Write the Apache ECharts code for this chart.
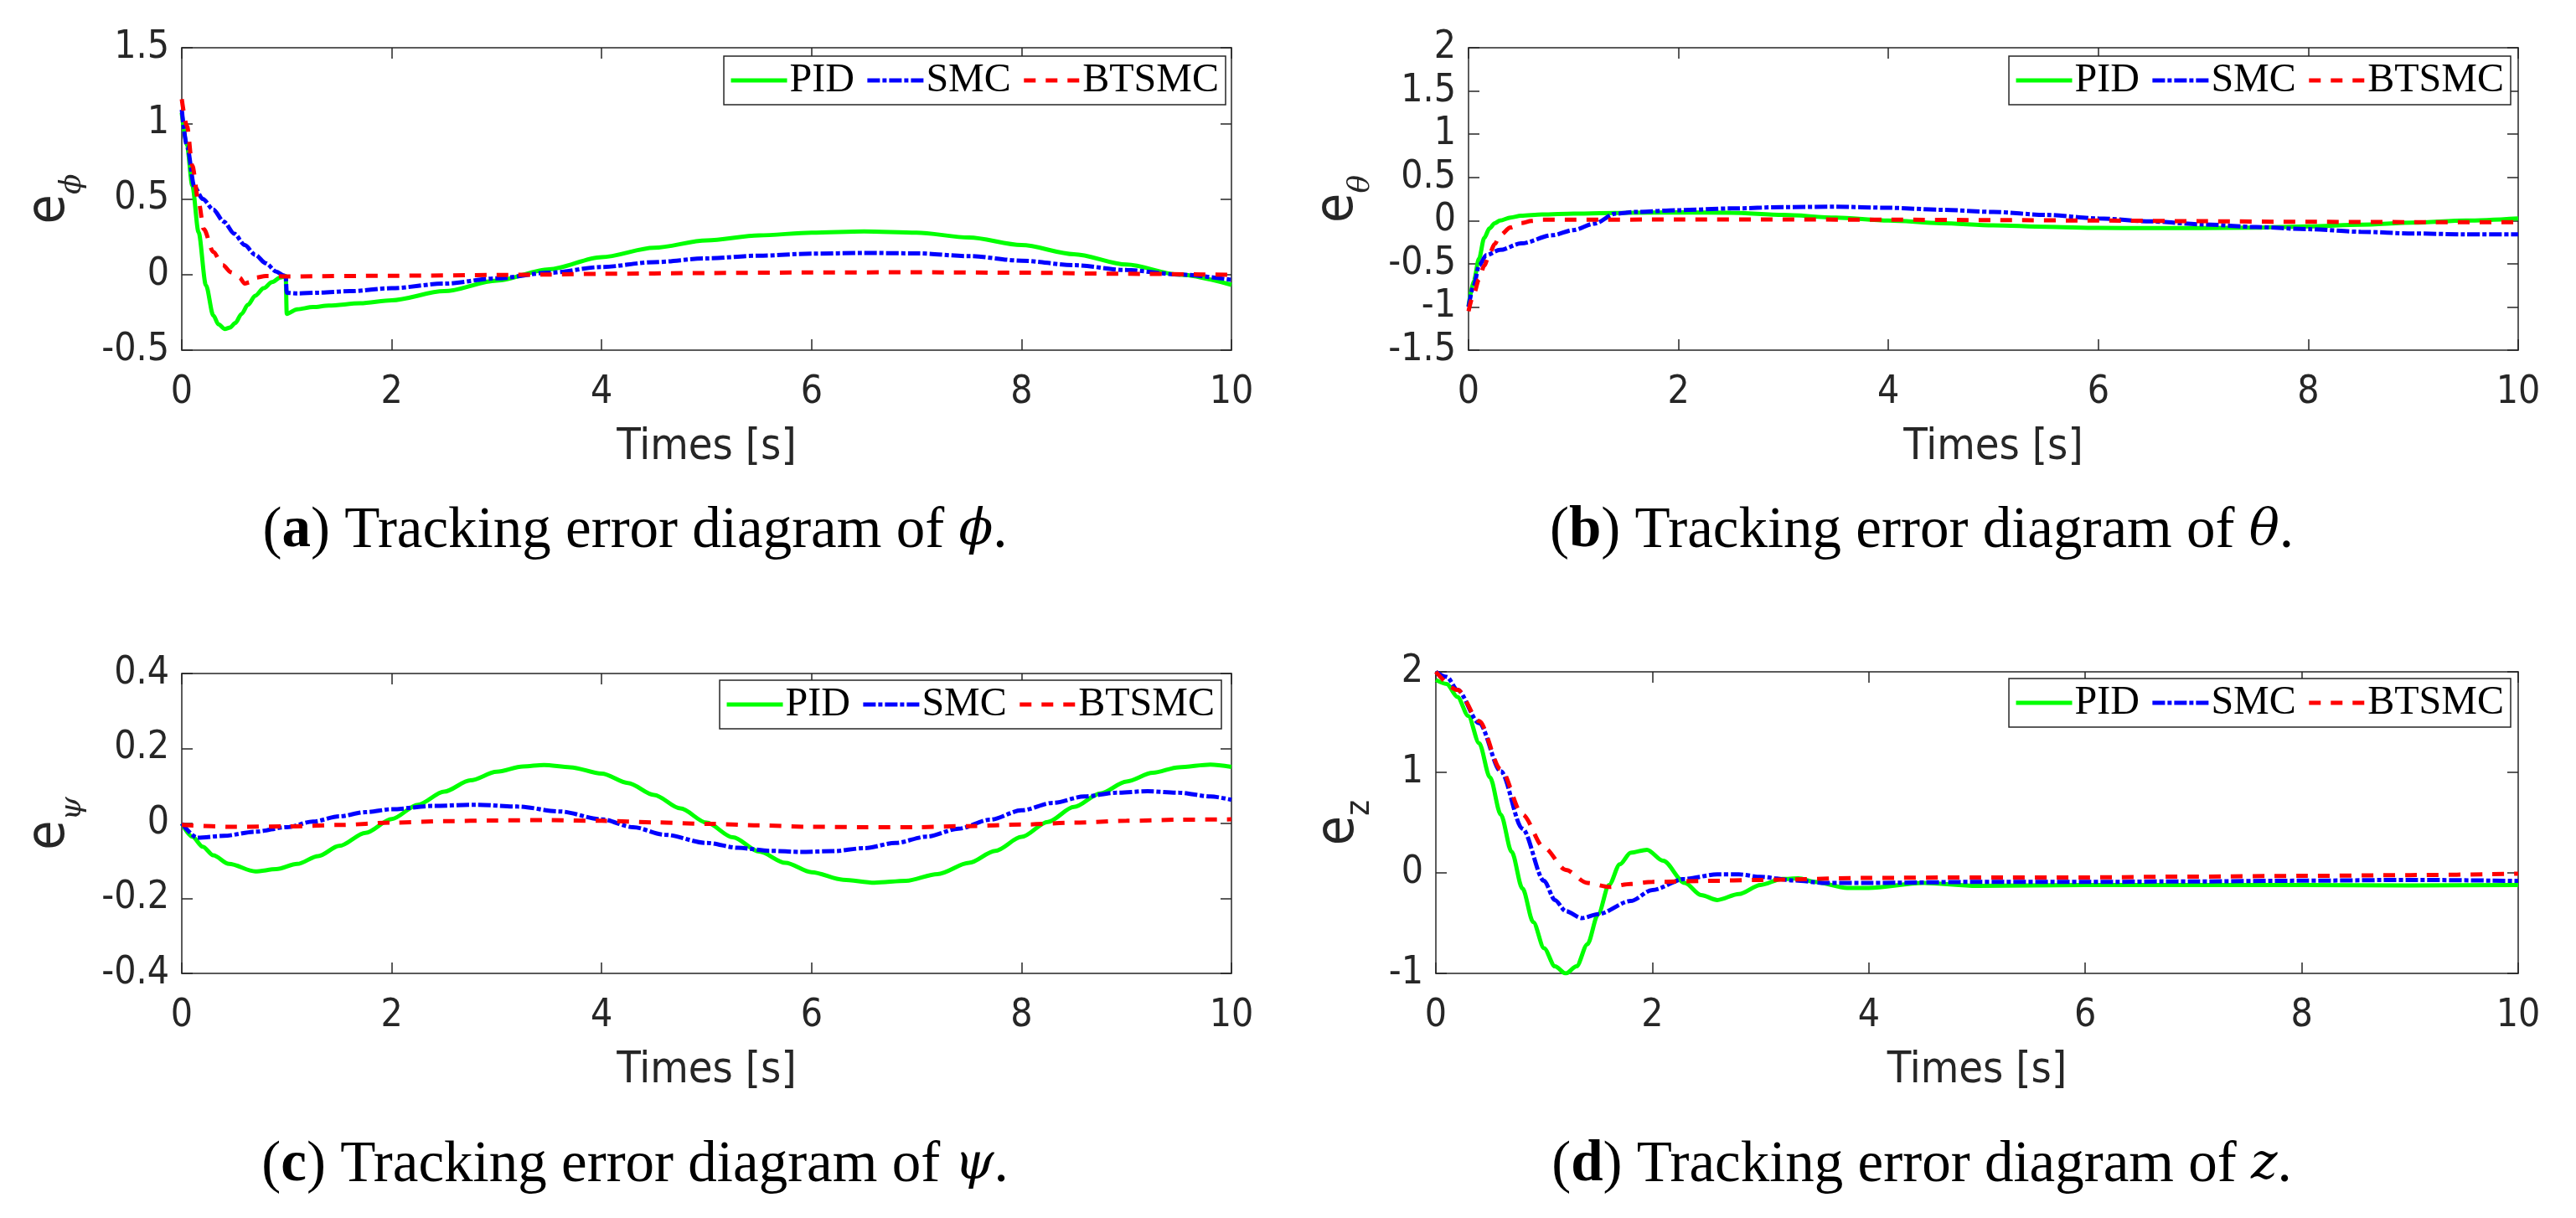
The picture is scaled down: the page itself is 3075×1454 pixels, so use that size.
<!DOCTYPE html>
<html>
  <head>
    <meta charset="utf-8" />
    <title>Tracking error diagrams</title>
    <script src="https://cdn.jsdelivr.net/npm/echarts@6/dist/echarts.min.js"></script>
  </head>
  <body style="margin: 0; background: #fff">
    <div id="main" style="width: 3075px; height: 1454px"></div>

    <script>
      // ---- data ----
      // (a) e_phi
      var tPhiPid = [0, 0.05, 0.1, 0.16, 0.23, 0.3, 0.35, 0.41, 0.46, 0.51, 0.57, 0.63, 0.7, 0.78, 0.86, 0.94, 0.99, 1.0, 1.1, 1.25, 1.4, 1.7, 2, 2.5, 3, 3.5, 4, 4.5, 5, 5.5, 6, 6.5, 7, 7.5, 8, 8.5, 9, 9.5, 10];
      var phiPid = [1.07, 0.85, 0.59, 0.28, -0.07, -0.27, -0.33, -0.36, -0.35, -0.32, -0.26, -0.2, -0.14, -0.09, -0.05, -0.02, -0.01, -0.26, -0.23, -0.215, -0.205, -0.19, -0.17, -0.11, -0.04, 0.035, 0.115, 0.177, 0.226, 0.259, 0.277, 0.285, 0.277, 0.245, 0.195, 0.135, 0.066, 0.0, -0.068];
      var tPhiSmc = [0, 0.05, 0.12, 0.2, 0.3, 0.4, 0.5, 0.6, 0.7, 0.8, 0.9, 0.97, 0.99, 1.0, 1.1, 1.3, 1.6, 2, 2.5, 3, 3.5, 4, 4.5, 5, 5.5, 6, 6.5, 7, 7.5, 8, 8.5, 9, 9.5, 10];
      var phiSmc = [1.09, 0.85, 0.58, 0.5, 0.43, 0.35, 0.27, 0.195, 0.13, 0.075, 0.02, -0.005, -0.012, -0.12, -0.125, -0.12, -0.11, -0.09, -0.06, -0.025, 0.012, 0.05, 0.082, 0.107, 0.125, 0.138, 0.143, 0.14, 0.122, 0.092, 0.062, 0.03, 0.0, -0.035];
      var tPhiBts = [0, 0.05, 0.1, 0.16, 0.21, 0.3, 0.39, 0.47, 0.55, 0.6, 0.65, 0.7, 0.8, 1, 2, 3, 3.5, 4, 5, 6, 7, 8, 9, 10];
      var phiBts = [1.16, 0.98, 0.72, 0.48, 0.3, 0.15, 0.063, 0.015, -0.02, -0.06, -0.05, -0.02, -0.01, -0.012, -0.008, -0.003, 0.0, 0.005, 0.01, 0.014, 0.015, 0.012, 0.005, -0.002];

      // (b) e_theta
      var tThPid = [0, 0.05, 0.1, 0.15, 0.2, 0.25, 0.3, 0.4, 0.5, 0.7, 1, 1.5, 2, 2.5, 3, 3.5, 4, 4.5, 5, 5.5, 6, 6.5, 7, 7.5, 8, 8.5, 9, 9.5, 10];
      var thPid = [-0.99, -0.7, -0.44, -0.2, -0.09, -0.03, 0.0, 0.035, 0.055, 0.07, 0.08, 0.09, 0.095, 0.09, 0.065, 0.035, 0.0, -0.03, -0.055, -0.072, -0.085, -0.088, -0.087, -0.083, -0.068, -0.048, -0.025, 0.0, 0.025];
      var tThSmc = [0, 0.05, 0.1, 0.17, 0.3, 0.5, 0.8, 1, 1.2, 1.4, 1.6, 2, 2.5, 3, 3.5, 4, 4.5, 5, 5.5, 6, 6.5, 7, 7.5, 8, 8.5, 9, 9.5, 10];
      var thSmc = [-1.0, -0.75, -0.52, -0.4, -0.34, -0.265, -0.17, -0.11, -0.035, 0.08, 0.1, 0.12, 0.14, 0.155, 0.16, 0.148, 0.125, 0.1, 0.065, 0.025, -0.01, -0.045, -0.075, -0.1, -0.13, -0.15, -0.16, -0.16];
      var tThBts = [0, 0.05, 0.1, 0.15, 0.2, 0.25, 0.3, 0.4, 0.5, 0.6, 0.7, 1, 2, 3, 4, 5, 6, 7, 8, 9, 10];
      var thBts = [-1.05, -0.85, -0.68, -0.52, -0.38, -0.27, -0.17, -0.08, -0.03, -0.005, 0.01, 0.01, 0.012, 0.012, 0.01, 0.005, 0.0, -0.008, -0.015, -0.018, -0.018];

      // (c) e_psi
      var tPsiPid = [0, 0.1, 0.2, 0.3, 0.45, 0.7, 0.9, 1.1, 1.3, 1.5, 1.75, 2, 2.25, 2.5, 2.75, 3, 3.25, 3.45, 3.7, 4, 4.25, 4.5, 4.75, 5, 5.25, 5.5, 5.75, 6, 6.3, 6.6, 6.9, 7.2, 7.5, 7.75, 8, 8.25, 8.5, 8.75, 9, 9.25, 9.5, 9.8, 10];
      var psiPid = [0, -0.035, -0.062, -0.085, -0.108, -0.128, -0.122, -0.108, -0.087, -0.06, -0.025, 0.012, 0.05, 0.085, 0.115, 0.138, 0.152, 0.156, 0.15, 0.133, 0.108, 0.076, 0.04, 0.002, -0.037, -0.075, -0.105, -0.13, -0.15, -0.158, -0.153, -0.135, -0.105, -0.073, -0.036, 0.004, 0.044, 0.08, 0.112, 0.135, 0.15, 0.157, 0.151];
      var tPsiSmc = [0, 0.15, 0.4, 0.7, 1, 1.25, 1.5, 1.75, 2, 2.4, 2.8, 3.2, 3.6, 4, 4.3, 4.6, 5, 5.3, 5.6, 5.9, 6.2, 6.5, 6.8, 7.1, 7.4, 7.7, 8, 8.3, 8.6, 8.9, 9.2, 9.5, 9.8, 10];
      var psiSmc = [0, -0.038, -0.033, -0.022, -0.01, 0.005, 0.019, 0.03, 0.038, 0.047, 0.05, 0.045, 0.032, 0.011, -0.01, -0.03, -0.052, -0.065, -0.073, -0.076, -0.074, -0.066, -0.052, -0.035, -0.014, 0.01, 0.035, 0.055, 0.072, 0.082, 0.086, 0.082, 0.072, 0.063];
      var tPsiBts = [0, 0.5, 1, 1.5, 2, 2.5, 3, 3.5, 4, 4.5, 5, 5.5, 6, 6.5, 7, 7.5, 8, 8.5, 9, 9.5, 10];
      var psiBts = [-0.004, -0.009, -0.008, -0.004, 0.002, 0.006, 0.008, 0.009, 0.007, 0.003, -0.001, -0.005, -0.009, -0.01, -0.01, -0.007, -0.003, 0.002, 0.007, 0.01, 0.011];

      // (d) e_z
      var tZPid = [0, 0.1, 0.2, 0.3, 0.4, 0.5, 0.6, 0.7, 0.8, 0.9, 1.0, 1.1, 1.2, 1.3, 1.4, 1.5, 1.6, 1.7, 1.8, 1.95, 2.1, 2.3, 2.45, 2.6, 2.8, 3.0, 3.2, 3.35, 3.5, 3.8, 4.0, 4.5, 5, 6, 7, 8, 9, 10];
      var zPid = [1.92, 1.88, 1.75, 1.56, 1.29, 0.95, 0.58, 0.21, -0.155, -0.49, -0.75, -0.93, -1.0, -0.93, -0.71, -0.41, -0.12, 0.085, 0.2, 0.23, 0.12, -0.1, -0.22, -0.27, -0.21, -0.12, -0.06, -0.055, -0.09, -0.15, -0.15, -0.1, -0.13, -0.12, -0.12, -0.12, -0.125, -0.12];
      var tZSmc = [0, 0.1, 0.2, 0.4, 0.6, 0.8, 1.0, 1.1, 1.2, 1.35, 1.5, 1.8, 2.0, 2.3, 2.6, 2.8, 3.0, 3.3, 3.6, 4, 5, 6, 7, 8, 9, 10];
      var zSmc = [2.0, 1.95, 1.82, 1.49, 1.01, 0.44, -0.08, -0.27, -0.38, -0.45, -0.41, -0.28, -0.17, -0.06, -0.015, -0.015, -0.04, -0.074, -0.1, -0.1, -0.09, -0.09, -0.085, -0.078, -0.07, -0.08];
      var tZBts = [0, 0.2, 0.4, 0.6, 0.8, 1.0, 1.2, 1.4, 1.6, 1.8, 2, 2.5, 3, 4, 5, 6, 7, 8, 9, 10];
      var zBts = [2.0, 1.82, 1.51, 1.03, 0.58, 0.25, 0.03, -0.1, -0.14, -0.11, -0.09, -0.08, -0.07, -0.05, -0.045, -0.045, -0.037, -0.03, -0.022, -0.008];

      var seriesNames = ["PID", "SMC", "BTSMC"];
      var xTicks = [0, 10, 2]; // min, max, interval
      var yRanges = [
        [-0.5, 1.5, 0.5],
        [-1.5, 2, 0.5],
        [-0.4, 0.4, 0.2],
        [-1, 2, 1],
      ];
      var yNames = ["{e|e}{s|ϕ}", "{e|e}{s|θ}", "{e|e}{s|ψ}", "{e|e}{z|z}"];
      var captions = [
        "{p|(}{b|a}{p|) Tracking error diagram of }{i|ϕ}{p|.}",
        "{p|(}{b|b}{p|) Tracking error diagram of }{i|θ}{p|.}",
        "{p|(}{b|c}{p|) Tracking error diagram of }{i|ψ}{p|.}",
        "{p|(}{b|d}{p|) Tracking error diagram of }{i|z}{p|.}",
      ];
      var panelData = [
        [[tPhiPid, phiPid], [tPhiSmc, phiSmc], [tPhiBts, phiBts]],
        [[tThPid, thPid], [tThSmc, thSmc], [tThBts, thBts]],
        [[tPsiPid, psiPid], [tPsiSmc, psiSmc], [tPsiBts, psiBts]],
        [[tZPid, zPid], [tZSmc, zSmc], [tZBts, zBts]],
      ];

      // ---- layout ----
      var grids = [
        { left: 217, top: 57, width: 1253, height: 361 },
        { left: 1753, top: 57, width: 1253, height: 361 },
        { left: 217, top: 804, width: 1253, height: 358 },
        { left: 1714, top: 802, width: 1292, height: 360 },
      ];
      var nameGaps = [112, 110, 112, 70];
      var legendPos = [
        { right: 1612, top: 67 },
        { right: 78, top: 67 },
        { right: 1617, top: 812 },
        { right: 78, top: 810 },
      ];
      var captionPos = [
        { left: 758, top: 600 },
        { left: 2294, top: 600 },
        { left: 758, top: 1357 },
        { left: 2294, top: 1357 },
      ];

      var axisFont = "'Liberation Sans Narrow', 'DejaVu Sans Condensed', 'Arial Narrow', sans-serif";
      var serifFont = "'Liberation Serif', 'DejaVu Serif', serif";
      var axisColor = "#262626";
      var lineWidth = 5;
      var styles = [
        { color: "#00ff00", type: "solid" },
        { color: "#0000ff", type: [15, 3, 5, 3] },
        { color: "#ff0000", type: [14, 12] },
      ];

      function pairs(t, v) {
        return t.map(function (x, i) {
          return [x, v[i]];
        });
      }

      var xAxes = [];
      var yAxes = [];
      var series = [];
      var legends = [];
      var titles = [];

      grids.forEach(function (g, i) {
        var tickStyle = { show: true, inside: true, length: 13, lineStyle: { color: axisColor, width: 1.5 } };
        var lineStyle = { show: true, onZero: false, lineStyle: { color: axisColor, width: 1.5 } };
        var labelStyle = { fontFamily: axisFont, fontSize: 46, color: axisColor };
        xAxes.push({
          type: "value", gridIndex: i, position: "bottom",
          min: xTicks[0], max: xTicks[1], interval: xTicks[2],
          axisLine: lineStyle, axisTick: tickStyle, splitLine: { show: false },
          axisLabel: Object.assign({ margin: 28 }, labelStyle),
          name: "Times [s]", nameLocation: "middle", nameGap: 90,
          nameTextStyle: { fontFamily: axisFont, fontSize: 52, color: axisColor },
        });
        xAxes.push({
          type: "value", gridIndex: i, position: "top",
          min: xTicks[0], max: xTicks[1], interval: xTicks[2],
          axisLine: lineStyle, axisTick: tickStyle, splitLine: { show: false },
          axisLabel: { show: false },
        });
        var yr = yRanges[i];
        yAxes.push({
          type: "value", gridIndex: i, position: "left",
          min: yr[0], max: yr[1], interval: yr[2],
          axisLine: lineStyle, axisTick: tickStyle, splitLine: { show: false },
          axisLabel: Object.assign({ margin: 15 }, labelStyle),
          name: yNames[i], nameLocation: "middle", nameRotate: 90, nameGap: nameGaps[i],
          nameTextStyle: {
            rich: {
              e: { fontFamily: axisFont, fontSize: 64, color: axisColor, verticalAlign: "bottom", padding: [0, 0, 14, 0] },
              s: { fontFamily: "'DejaVu Serif', serif", fontStyle: "italic", fontSize: 36, color: axisColor, verticalAlign: "bottom" },
              z: { fontFamily: axisFont, fontSize: 40, color: axisColor, verticalAlign: "bottom" },
            },
          },
        });
        yAxes.push({
          type: "value", gridIndex: i, position: "right",
          min: yr[0], max: yr[1], interval: yr[2],
          axisLine: lineStyle, axisTick: tickStyle, splitLine: { show: false },
          axisLabel: { show: false },
        });

        panelData[i].forEach(function (d, k) {
          series.push({
            name: seriesNames[k],
            type: "line",
            xAxisIndex: i * 2,
            yAxisIndex: i * 2,
            data: pairs(d[0], d[1]),
            symbol: "none",
            smooth: 0.3,
            smoothMonotone: "x",
            lineStyle: { color: styles[k].color, width: lineWidth, type: styles[k].type },
            itemStyle: { color: styles[k].color },
            z: 2 + k,
          });
        });

        legends.push({
          data: seriesNames,
          right: legendPos[i].right,
          top: legendPos[i].top,
          orient: "horizontal",
          itemWidth: 67,
          itemHeight: 20,
          itemGap: 13,
          padding: [5, 8, 5, 6],
          borderColor: axisColor,
          borderWidth: 1.5,
          backgroundColor: "#fff",
          selectedMode: false,
          itemStyle: { opacity: 0 },
          lineStyle: { width: lineWidth },
          textStyle: { fontFamily: serifFont, fontSize: 48, color: "#000", padding: [0, 0, 0, -2] },
        });

        titles.push({
          text: captions[i],
          left: captionPos[i].left,
          top: captionPos[i].top,
          textAlign: "center",
          padding: 0,
          textStyle: {
            fontWeight: "normal",
            rich: {
              p: { fontFamily: serifFont, fontSize: 69, fontWeight: "normal", color: "#000" },
              b: { fontFamily: serifFont, fontSize: 69, fontWeight: "bold", color: "#000" },
              i: { fontFamily: "'DejaVu Serif', serif", fontStyle: "italic", fontWeight: "normal", fontSize: 60, color: "#000" },
            },
          },
        });
      });

      var myChart = echarts.init(document.getElementById("main"));
      myChart.setOption({
        backgroundColor: "#fff",
        animation: false,
        title: titles,
        legend: legends,
        grid: grids,
        xAxis: xAxes,
        yAxis: yAxes,
        series: series,
      });
    </script>
  </body>
</html>
